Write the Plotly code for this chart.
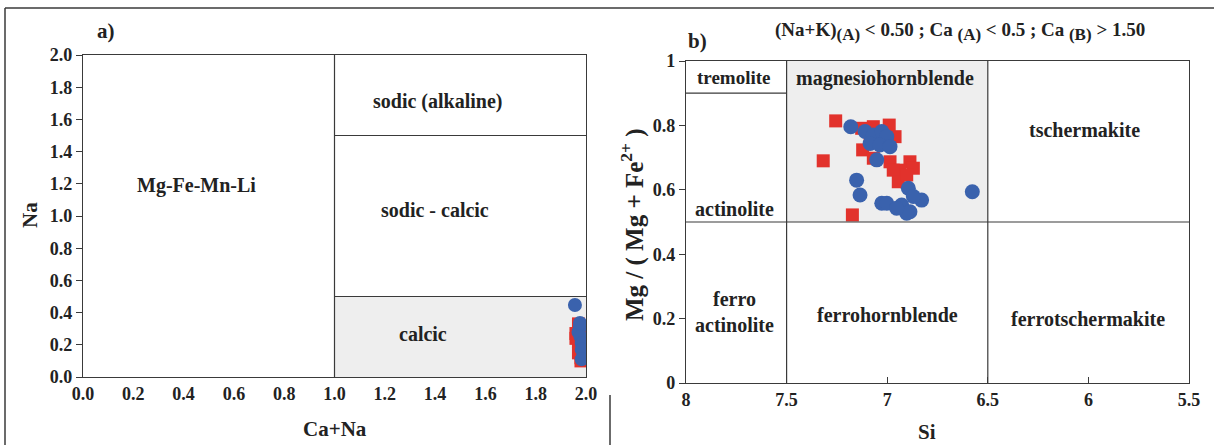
import plotly.graph_objects as go

# ---------------- data ----------------
# Panel a: Ca+Na vs Na
a_red_canA = [1.97, 1.98, 1.96, 1.99, 1.97, 1.98, 1.99, 1.97, 1.98, 1.96, 2.00, 1.98]
a_red_na = [0.33, 0.30, 0.27, 0.25, 0.22, 0.20, 0.17, 0.15, 0.12, 0.24, 0.20, 0.10]
a_blue_canA = [1.956, 1.976, 1.97, 1.978, 1.983, 1.983, 1.983, 1.976]
a_blue_na = [0.447, 0.31, 0.28, 0.25, 0.21, 0.17, 0.11, 0.335]

# Panel b: Si vs Mg/(Mg+Fe2+)
b_red_si = [7.256, 7.318, 7.173, 7.127, 7.069, 6.990, 6.961, 7.122, 7.069, 6.986,
            6.887, 6.870, 6.936, 6.970, 6.945, 6.903, 7.085, 7.019]
b_red_mg = [0.814, 0.690, 0.522, 0.791, 0.796, 0.801, 0.765, 0.724, 0.698, 0.687,
            0.687, 0.667, 0.661, 0.661, 0.625, 0.646, 0.760, 0.755]
b_blue_si = [7.181, 7.110, 7.069, 7.027, 7.002, 7.085, 7.036, 6.986, 7.052, 7.152,
             7.135, 7.027, 7.002, 6.895, 6.829, 6.870, 6.928, 6.887, 6.903, 6.953, 6.577]
b_blue_mg = [0.796, 0.781, 0.770, 0.781, 0.765, 0.744, 0.739, 0.734, 0.693, 0.630,
             0.584, 0.558, 0.558, 0.605, 0.568, 0.579, 0.553, 0.532, 0.527, 0.543, 0.594]

a_ticks = [0.0, 0.2, 0.4, 0.6, 0.8, 1.0, 1.2, 1.4, 1.6, 1.8, 2.0]
b_xticks = [8, 7.5, 7, 6.5, 6, 5.5]
b_yticks = [0, 0.2, 0.4, 0.6, 0.8, 1]

# ---------------- styling ----------------
W, H = 1214, 445
FONT = "Liberation Serif"
RED = "#e2322c"
BLUE = "#3a62ad"
LINE = "#3a3a3a"
TXT = "#222222"
SHADE = "#eeeeee"

def px(xp):
    return xp / W

def py(yp):
    return 1 - yp / H

def f(size):
    return dict(family=FONT, size=size, color=TXT, weight="bold")

fig = go.Figure()

fig.add_trace(go.Scatter(x=a_red_canA, y=a_red_na, mode="markers", xaxis="x", yaxis="y",
                         marker=dict(symbol="square", size=13, color=RED, line=dict(width=0)),
                         showlegend=False))
fig.add_trace(go.Scatter(x=a_blue_canA, y=a_blue_na, mode="markers", xaxis="x", yaxis="y",
                         marker=dict(symbol="circle", size=14, color=BLUE, line=dict(width=0)),
                         showlegend=False))
fig.add_trace(go.Scatter(x=b_red_si, y=b_red_mg, mode="markers", xaxis="x2", yaxis="y2",
                         marker=dict(symbol="square", size=13, color=RED, line=dict(width=0)),
                         showlegend=False))
fig.add_trace(go.Scatter(x=b_blue_si, y=b_blue_mg, mode="markers", xaxis="x2", yaxis="y2",
                         marker=dict(symbol="circle", size=15, color=BLUE, line=dict(width=0)),
                         showlegend=False))

axcommon = dict(showgrid=False, zeroline=False, showline=True, linecolor=LINE, linewidth=1.2,
                mirror=True, tickfont=f(18), tickcolor=LINE, ticklen=6, tickwidth=1.2,
                automargin=False)

LW = 1.2
shapes = [
    # panel a regions
    dict(type="rect", xref="x", yref="y", x0=1.0, x1=2.0, y0=0, y1=0.5, fillcolor=SHADE,
         line=dict(width=0), layer="below"),
    dict(type="line", xref="x", yref="y", x0=1.0, x1=1.0, y0=0, y1=2, line=dict(color=LINE, width=LW)),
    dict(type="line", xref="x", yref="y", x0=1.0, x1=2.0, y0=1.5, y1=1.5, line=dict(color=LINE, width=LW)),
    dict(type="line", xref="x", yref="y", x0=1.0, x1=2.0, y0=0.5, y1=0.5, line=dict(color=LINE, width=LW)),
    # panel b regions
    dict(type="rect", xref="x2", yref="y2", x0=7.5, x1=6.5, y0=0.5, y1=1.0, fillcolor=SHADE,
         line=dict(width=0), layer="below"),
    dict(type="line", xref="x2", yref="y2", x0=7.5, x1=7.5, y0=0, y1=1, line=dict(color=LINE, width=LW)),
    dict(type="line", xref="x2", yref="y2", x0=6.5, x1=6.5, y0=0, y1=1, line=dict(color=LINE, width=LW)),
    dict(type="line", xref="x2", yref="y2", x0=8, x1=5.5, y0=0.5, y1=0.5, line=dict(color=LINE, width=LW)),
    dict(type="line", xref="x2", yref="y2", x0=8, x1=7.5, y0=0.9, y1=0.9, line=dict(color=LINE, width=LW)),
    # outer frame
    dict(type="line", xref="paper", yref="paper", x0=px(5), x1=1, y0=py(8), y1=py(8),
         line=dict(color=LINE, width=1.5)),
    dict(type="line", xref="paper", yref="paper", x0=px(5), x1=px(5), y0=0, y1=py(8),
         line=dict(color=LINE, width=1.5)),
    dict(type="line", xref="paper", yref="paper", x0=px(610), x1=px(610), y0=0, y1=py(395),
         line=dict(color=LINE, width=1.5)),
]

SUBA = "<sub><span style='font-size:17px'>(A)</span></sub>"
SUBB = "<sub><span style='font-size:17px'>(B)</span></sub>"
header = f"(Na+K){SUBA} &lt; 0.50 ; Ca {SUBA} &lt; 0.5 ; Ca {SUBB} &gt; 1.50"
ytitle_b = "Mg / ( Mg + Fe<sup>2+</sup> )"

C = dict(showarrow=False, xanchor="center", yanchor="middle")
annotations = [
    # panel a region labels
    dict(x=1.41, y=1.71, xref="x", yref="y", text="sodic (alkaline)", font=f(20), **C),
    dict(x=1.40, y=1.04, xref="x", yref="y", text="sodic - calcic", font=f(20), **C),
    dict(x=1.35, y=0.27, xref="x", yref="y", text="calcic", font=f(20), **C),
    dict(x=0.45, y=1.19, xref="x", yref="y", text="Mg-Fe-Mn-Li", font=f(20), **C),
    # panel b region labels
    dict(x=7.76, y=0.95, xref="x2", yref="y2", text="tremolite", font=f(19), **C),
    dict(x=7.01, y=0.945, xref="x2", yref="y2", text="magnesiohornblende", font=f(20), **C),
    dict(x=6.02, y=0.785, xref="x2", yref="y2", text="tschermakite", font=f(20), **C),
    dict(x=7.76, y=0.54, xref="x2", yref="y2", text="actinolite", font=f(20), **C),
    dict(x=7.76, y=0.22, xref="x2", yref="y2", text="ferro<br>actinolite", font=f(20), **C),
    dict(x=7.0, y=0.21, xref="x2", yref="y2", text="ferrohornblende", font=f(20), **C),
    dict(x=6.0, y=0.20, xref="x2", yref="y2", text="ferrotschermakite", font=f(20), **C),
    # panel titles
    dict(x=px(106), y=py(31), xref="paper", yref="paper", text="a)", font=f(21), **C),
    dict(x=px(697), y=py(41), xref="paper", yref="paper", text="b)", font=f(21), **C),
    dict(x=px(960), y=py(31), xref="paper", yref="paper", text=header, font=f(19), **C),
    # axis titles
    dict(x=px(30), y=py(215), xref="paper", yref="paper", text="Na", textangle=-90,
         font=f(21), **C),
    dict(x=px(335), y=py(429), xref="paper", yref="paper", text="Ca+Na", font=f(21), **C),
    dict(x=px(632), y=py(225), xref="paper", yref="paper", text=ytitle_b,
         textangle=-90, font=f(25), **C),
    dict(x=px(927), y=py(432), xref="paper", yref="paper", text="Si", font=f(21), **C),
]

fig.update_layout(
    width=W, height=H,
    margin=dict(l=0, r=0, t=0, b=0, autoexpand=False),
    paper_bgcolor="white", plot_bgcolor="white",
    showlegend=False,
    xaxis=dict(domain=[px(83), px(586)], range=[0, 2], tickvals=a_ticks,
               ticktext=[f"{v:.1f}" for v in a_ticks], ticks="", anchor="y", **axcommon),
    yaxis=dict(domain=[py(377), py(55)], range=[0, 2], tickvals=a_ticks,
               ticktext=[f"{v:.1f}" for v in a_ticks], ticks="outside", anchor="x", **axcommon),
    xaxis2=dict(domain=[px(686), px(1189)], range=[8, 5.5], tickvals=b_xticks,
                ticktext=[str(v) for v in b_xticks], ticks="inside", anchor="y2", **axcommon),
    yaxis2=dict(domain=[py(383), py(61)], range=[0, 1], tickvals=b_yticks,
                ticktext=[str(v) for v in b_yticks], ticks="outside", anchor="x2", **axcommon),
    shapes=shapes,
    annotations=annotations,
)

fig.write_html("out.html", config={"displayModeBar": False},
               post_script="document.body.style.margin='0px';")
